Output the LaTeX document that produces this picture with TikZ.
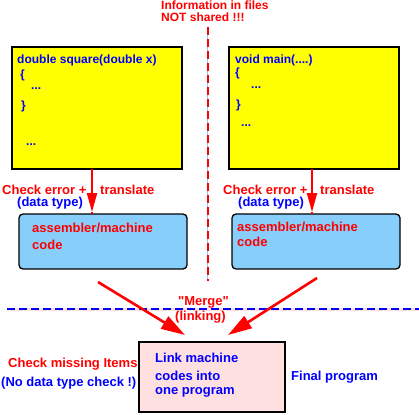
\documentclass[tikz,border=0pt]{standalone}
\usepackage{fontspec}
\setmainfont{Liberation Sans}
\newfontfamily\qfont{Liberation Sans}[Ligatures=TeXOff]
\usetikzlibrary{arrows.meta}
\definecolor{cred}{RGB}{255,0,0}
\definecolor{cblue}{RGB}{0,0,255}
\definecolor{cyel}{RGB}{255,255,0}
\definecolor{csky}{RGB}{135,206,250}
\definecolor{cpink}{RGB}{255,224,224}
\tikzset{
  ybox/.style={draw=black,line width=2pt,fill=cyel,outer sep=0pt,inner sep=0pt,anchor=north west},
  bbox/.style={draw=black,line width=1.3pt,fill=csky,rounded corners=4pt,outer sep=0pt,inner sep=0pt,anchor=north west},
  pbox/.style={draw=black,line width=2.4pt,fill=cpink,outer sep=0pt,inner sep=0pt,anchor=north west},
  txt/.style={anchor=base west,inner sep=0pt,font=\bfseries\fontsize{13}{15}\selectfont},
  ctxt/.style={txt,text=cblue,font=\bfseries\fontsize{12}{14}\selectfont},
  rtxt/.style={txt,text=cred},
  btxt/.style={txt,text=cblue},
  redline/.style={draw=cred,line width=2pt},
  vdown/.style={redline,-{Triangle[length=19pt,width=10pt]}},
  diag/.style={draw=cred,line width=2.6pt,-{Triangle[length=24pt,width=14pt]}},
}
\begin{document}
\begin{tikzpicture}[x=1pt,y=-1pt]
\useasboundingbox (0,0) rectangle (419,414);
% top text
\node[rtxt,font=\bfseries\fontsize{12}{14}\selectfont] (info1) at (161,10) {Information in files};
\node[rtxt,font=\bfseries\fontsize{12}{14}\selectfont] (info2) at (161,22) {NOT shared !!!};
% vertical divider
\coordinate (vtop) at (207.5,27);
\coordinate (vbot) at (207.5,281);
\draw[csky,line width=0.8pt] (vtop) -- (vbot);
\draw[cred,line width=2pt,dash pattern=on 8pt off 4pt] (vtop) -- (vbot);
% horizontal divider
\coordinate (hl) at (7,309);
\coordinate (hr) at (419,309);
\draw[cpink,line width=3pt] (hl) -- (hr);
\draw[cblue,line width=2pt,dash pattern=on 8pt off 4pt] (hl) -- (hr);
% yellow boxes
\node[ybox,minimum width=170pt,minimum height=122pt] (y1) at (12,47) {};
\node[ybox,minimum width=170pt,minimum height=122pt] (y2) at (229,47) {};
\node[ctxt] (c11) at (17,64) {double square(double x)};
\node[ctxt] (c12) at (20,79) {\{};
\node[ctxt] (c13) at (31,90) {...};
\node[ctxt] (c14) at (21,110) {\}};
\node[ctxt] (c15) at (26,145) {...};
\node[ctxt] (c21) at (235,64) {void main(....)};
\node[ctxt] (c22) at (235,77) {\{};
\node[ctxt] (c23) at (251,89) {...};
\node[ctxt] (c24) at (236,109) {\}};
\node[ctxt] (c25) at (241,127) {...};
% blue boxes
\node[bbox,minimum width=168pt,minimum height=55pt] (b1) at (19,214) {};
\node[bbox,minimum width=168pt,minimum height=55pt] (b2) at (232,214) {};
\node[rtxt] (a11) at (32,232) {assembler/machine};
\node[rtxt] (a12) at (32,249) {code};
\node[rtxt] (a21) at (237,231) {assembler/machine};
\node[rtxt] (a22) at (237,246) {code};
% vertical arrows
\coordinate (t1) at (92,212);
\coordinate (t2) at (312,212);
\draw[vdown] (t1 |- y1.south) -- (t1);
\draw[redline] (t1) -- (t1 |- b1.north);
\draw[vdown] (t2 |- y2.south) -- (t2);
\draw[redline] (t2) -- (t2 |- b2.north);
% labels of vertical arrows
\node[rtxt] (ce1) at (2,194) {Check error +};
\node[rtxt] (tr1) at (100,194) {translate};
\node[btxt] (dt1) at (17,206) {(data type)};
\node[rtxt] (ce2) at (223,194) {Check error +};
\node[rtxt] (tr2) at (320,194) {translate};
\node[btxt] (dt2) at (238,206) {(data type)};
% merge
\node[rtxt] (mg) at (178,305) {\qfont\bfseries "Merge"};
\node[rtxt] (lk) at (175,320) {(linking)};
\coordinate (d1s) at (98,282);
\coordinate (d1e) at (185,335);
\coordinate (d2s) at (317,278);
\coordinate (d2e) at (228,335);
\draw[diag] (d1s) -- (d1e);
\draw[diag] (d2s) -- (d2e);
% pink box
\node[pbox,minimum width=146pt,minimum height=70pt] (p) at (139,342) {};
\node[btxt] (p1) at (155,362) {Link machine};
\node[btxt] (p2) at (155,380) {codes into};
\node[btxt] (p3) at (155,394) {one program};
\node[rtxt] (cm) at (8,367) {Check missing Items};
\node[btxt] (nd) at (1,386) {(No data type check !)};
\node[btxt] (fp) at (291,380) {Final program};
\end{tikzpicture}
\end{document}
